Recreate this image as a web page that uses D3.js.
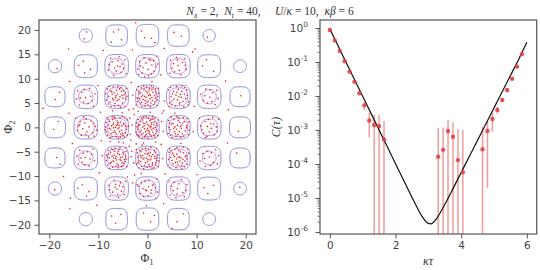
<!DOCTYPE html>
<html>
<head>
<meta charset="utf-8">
<title>Field distribution and correlator</title>
<script src="https://cdn.jsdelivr.net/npm/d3@7"></script>
<style>
body { margin: 0; background: #fff; }
svg { display: block; }
.tick text, .lbl { font-family: "DejaVu Sans", sans-serif; font-size: 10.5px; fill: #444; }
.tick line, .domain { stroke: #555; }
.math { font-family: "Liberation Serif", "DejaVu Serif", serif; fill: #333; white-space: pre; }
</style>
<script>
// ---- data ----
var PERIOD = 2 * Math.PI;

// contour rings per cell: [m, n, outer (blue) half width, inner (purple) half width]
var cellM = [-3,-2,-1,0,1,2,3];
var blueRows = {
  '3':  [0, 1.35, 2.2, 2.3, 2.2, 1.25, 0],
  '2':  [1.35, 2.35, 2.4, 2.4, 2.4, 2.35, 1.3],
  '1':  [2.05, 2.4, 2.4, 2.4, 2.4, 2.4, 2.05],
  '0':  [2.15, 2.4, 2.4, 2.4, 2.4, 2.4, 2.15],
  '-1': [2.05, 2.4, 2.4, 2.4, 2.4, 2.4, 2.05],
  '-2': [1.35, 2.35, 2.4, 2.4, 2.4, 2.35, 1.3],
  '-3': [0, 1.35, 2.2, 2.3, 2.2, 1.3, 0]
};
var purpleRows = {
  '3':  [0, 0, 0, 0, 0, 0, 0],
  '2':  [0, 0, 1.55, 1.7, 1.55, 0, 0],
  '1':  [0, 1.45, 1.85, 1.85, 1.85, 1.45, 0],
  '0':  [0, 1.7, 1.9, 1.9, 1.9, 1.7, 0],
  '-1': [0, 1.45, 1.85, 1.85, 1.85, 1.4, 0],
  '-2': [0, 0, 1.55, 1.7, 1.55, 0, 0],
  '-3': [0, 0, 0, 0, 0, 0, 0]
};

// sampled (Phi_1, Phi_2)
var samples = [
[-1.8,0.4],[0.3,-1.2],[1.1,1.7],[-0.6,-0.3],[2.0,-0.8],[-1.2,1.9],[0.7,0.2],[-2.1,-1.5],[1.5,-2.0],[-0.2,1.1],
[0.9,-0.5],[-1.5,-0.9],[1.9,0.9],[-0.8,2.1],[0.1,-2.2],[-2.2,0.9],[1.3,0.6],[-0.4,-1.7],[0.5,1.4],[-1.0,0.0],
[1.7,-1.3],[-1.7,-2.0],[0.0,0.6],[2.2,1.5],[-0.9,-1.2],[0.4,-0.9],[-1.4,1.2],[1.0,2.2],[-0.1,-0.6],[1.6,0.0],
[-2.0,-0.4],[0.8,-1.8],[-0.5,0.8],[1.2,-0.2],[-1.1,-2.2],[0.2,1.9],[-1.9,1.6],[2.1,-1.7],[-0.7,0.3],[0.6,-0.1],
[-1.3,-0.6],[1.4,1.1],[-0.3,2.2],[0.9,1.0],[-2.3,-1.0],[1.8,-0.5],[-0.6,-2.0],[0.3,0.3],[-1.6,0.6],[1.1,-1.0],
[-0.2,-1.4],[2.0,0.4],[-1.0,1.5],[0.5,-1.5],[-1.8,-1.7],[1.5,1.9],[0.0,-0.2],[-0.9,0.9],[0.7,1.6],[-0.4,-0.9],
[1.3,-1.6],[-2.1,0.1],[0.2,-0.6],[-1.2,-1.4],[0.8,0.7],
[-7.9,0.5],[-5.1,-1.2],[-6.6,1.8],[-4.4,0.2],[-8.3,-0.9],[-6.0,-0.3],[-7.2,-1.9],[-5.5,1.1],[-4.7,-2.0],[-6.9,0.9],
[-8.0,1.6],[-5.8,0.4],[-6.3,-1.4],[-4.2,1.5],[-7.5,-0.4],[-5.3,-0.6],[-6.8,2.1],[-8.5,0.1],[-4.9,0.8],[-7.0,-1.0],
[-5.9,-2.2],[-6.5,0.0],[-7.7,1.2],[-4.5,-1.1],[-5.6,1.9],[-8.1,-1.6],[-6.2,1.3],[-7.3,0.3],[-5.0,-1.7],[-6.7,-0.7],
[-4.3,-0.4],[-7.6,-2.1],[-5.7,-0.9],[-6.1,0.7],[-8.4,1.0],[-5.2,0.3],[-7.1,1.6],[-4.6,1.9],[-6.4,-1.9],[-7.8,-0.2],
[-5.4,-1.4],[-6.9,-0.1],[-4.8,0.6],[-8.2,2.0],[-6.0,1.0],[-7.4,-1.3],[-5.1,2.2],[-6.6,-1.1],[-4.1,-1.6],[-7.0,0.6],
[-5.8,-0.1],[-8.6,-0.5],[-6.3,0.4],[-5.5,-2.0],[-7.2,2.2],
[5.2,0.8],[7.1,-1.3],[6.4,1.9],[4.6,-0.5],[8.0,0.3],[5.8,-1.8],[7.5,1.2],[4.3,1.4],[6.9,-0.2],[5.5,-0.9],
[8.3,-1.5],[6.1,0.4],[4.8,2.1],[7.7,-0.7],[5.0,-2.1],[6.6,1.0],[4.4,0.0],[7.3,2.0],[5.9,-0.4],[8.4,1.1],
[6.2,-1.5],[4.9,0.7],[7.0,0.5],[5.4,1.6],[6.8,-2.0],[4.2,-1.2],[7.9,-0.1],[6.0,2.2],[5.6,0.1],[7.4,-1.8],
[4.7,-1.6],[6.5,-0.8],[8.1,1.8],[5.3,-0.2],[6.3,1.4],[7.2,0.9],[4.5,0.9],[5.7,-1.3],[6.7,0.2],[8.5,-0.6],
[0.4,6.8],[-1.2,5.1],[1.6,7.9],[-0.5,4.4],[2.0,5.6],[-1.8,7.4],[0.9,6.1],[-0.2,8.3],[1.3,4.7],[-2.1,6.0],
[0.1,5.4],[-1.0,6.6],[1.8,6.9],[-0.7,7.8],[0.6,4.2],[-1.5,4.8],[2.2,8.0],[-0.3,6.2],[1.1,7.2],[-2.0,5.3],
[0.8,8.5],[-1.3,8.1],[1.5,5.2],[0.0,7.1],[-0.9,5.7],[2.1,6.4],[-1.7,6.9],[0.5,5.9],[-0.4,4.9],[1.2,8.2],
[-2.2,7.7],[0.3,7.5],[-1.1,4.3],[1.9,4.5],[-0.6,6.4],[0.7,5.0],[-1.6,5.9],[1.4,6.5],[-0.1,5.2],[0.9,7.7],
[-2.3,4.6],[0.2,6.5],[-0.8,8.5],[1.7,7.4],[-1.4,7.1],[0.6,6.6],[-0.3,7.4],[1.0,5.5],[-1.9,8.4],[2.3,7.0],
[-0.5,5.5],[0.4,8.0],[1.6,6.0],[-1.2,6.3],[0.1,4.6],
[0.5,-6.7],[-1.3,-5.0],[1.7,-7.8],[-0.4,-4.3],[2.1,-5.7],[-1.9,-7.3],[0.8,-6.0],[-0.1,-8.2],[1.4,-4.8],[-2.0,-6.1],
[0.2,-5.3],[-0.9,-6.5],[1.9,-6.8],[-0.6,-7.9],[0.7,-4.1],[-1.6,-4.7],[2.2,-8.1],[-0.2,-6.3],[1.0,-7.3],[-2.1,-5.2],
[0.9,-8.4],[-1.2,-8.0],[1.6,-5.1],[0.0,-7.0],[-1.0,-5.8],[2.0,-6.3],[-1.8,-6.8],[0.4,-5.8],[-0.3,-4.8],[1.3,-8.3],
[-2.2,-7.6],[0.3,-7.6],[-1.1,-4.4],[1.8,-4.4],[-0.7,-6.3],[0.6,-5.1],[-1.5,-5.8],[1.5,-6.4],[0.0,-5.5],[1.0,-7.7],
[-2.3,-4.5],[0.1,-6.6],[-0.8,-8.5],[1.7,-7.3],[-1.4,-7.0],[0.7,-6.5],[-0.4,-7.3],[1.1,-5.6],[-1.8,-8.3],[2.3,-6.9],
[-0.5,-5.4],[0.5,-8.0],[1.5,-6.0],[-1.3,-6.2],[0.2,-4.6],
[-7.6,5.2],[-5.3,7.4],[-6.5,6.1],[-4.4,5.8],[-8.2,7.9],[-5.9,4.5],[-7.0,8.3],[-4.8,6.7],[-6.2,5.5],[-7.9,6.4],
[-5.1,5.0],[-6.8,7.1],[-4.3,8.0],[-7.4,4.3],[-5.6,6.3],[-6.0,8.4],[-8.4,5.6],[-4.6,4.3],[-6.6,4.9],[-7.2,6.8],
[-5.4,8.2],[-6.3,7.6],[-4.9,7.5],[-8.0,4.8],[-5.8,5.7],[-7.5,7.5],[-4.2,6.4],[-6.9,5.6],[-5.0,6.0],[-6.1,6.8],
[-7.8,8.4],[-5.5,4.1],[-6.7,4.4],[-8.5,6.9],[-4.5,7.1],[-7.1,5.9],[-5.7,7.9],[-6.4,6.5],[-7.3,7.3],[-5.2,6.6],
[5.1,6.9],[7.2,5.3],[6.3,7.8],[4.5,5.0],[8.1,6.6],[5.7,4.4],[6.9,6.2],[4.3,7.7],[7.6,8.2],[5.4,5.8],
[6.5,4.8],[8.3,4.6],[4.8,6.3],[7.0,7.4],[5.9,8.4],[6.1,5.6],[7.8,5.9],[4.4,4.3],[5.3,7.4],[6.7,6.8],
[8.0,7.7],[5.0,5.4],[7.4,4.2],[6.4,6.3],[4.7,8.2],[7.1,8.5],[5.8,6.6],[8.4,5.2],[6.0,7.2],[4.9,4.7],
[7.5,6.8],[6.6,5.1],
[-7.5,-5.1],[-5.2,-7.3],[-6.4,-6.0],[-4.5,-5.9],[-8.1,-7.8],[-5.8,-4.6],[-7.1,-8.2],[-4.7,-6.6],[-6.1,-5.4],[-7.8,-6.3],
[-5.0,-5.1],[-6.9,-7.0],[-4.2,-8.1],[-7.3,-4.4],[-5.5,-6.2],[-6.0,-8.3],[-8.3,-5.7],[-4.4,-4.2],[-6.7,-4.9],[-7.0,-6.9],
[-5.3,-8.1],[-6.2,-7.5],[-4.8,-7.4],[-8.0,-4.7],[-5.7,-5.6],[-7.6,-7.4],[-4.3,-6.5],[-6.8,-5.7],[-5.1,-6.1],[-6.3,-6.7],
[-7.7,-8.4],[-5.6,-4.2],[-6.6,-4.3],[-8.4,-6.8],[-4.6,-7.0],[-7.2,-5.9],[-5.9,-7.8],[-6.5,-6.4],[-7.4,-7.2],[-5.4,-6.8],
[-6.0,-5.0],[-7.9,-5.5],[-4.9,-5.5],[-6.4,-8.0],[-5.0,-7.9],[-7.0,-4.6],[-8.2,-6.1],[-5.6,-6.6],[-6.9,-6.3],[-4.4,-4.9],
[5.0,-6.8],[7.3,-5.2],[6.2,-7.7],[4.4,-5.1],[8.0,-6.5],[5.6,-4.5],[6.8,-6.3],[4.2,-7.8],[7.5,-8.1],[5.3,-5.7],
[6.4,-4.7],[8.2,-4.5],[4.7,-6.2],[7.1,-7.3],[5.8,-8.3],[6.0,-5.5],[7.7,-6.0],[4.5,-4.4],[5.2,-7.5],[6.6,-6.9],
[8.1,-7.6],[5.1,-5.3],[7.3,-4.1],[6.3,-6.2],[4.6,-8.3],[7.0,-8.5],[5.9,-6.5],[8.4,-5.3],[6.1,-7.1],[4.8,-4.8],
[7.6,-6.9],[6.7,-5.0],[6.5,-6.1],[5.5,-6.0],[7.9,-5.8],[4.3,-6.6],[6.9,-7.9],[5.7,-7.2],[7.2,-6.6],[6.0,-4.2],
[-13.8,0.6],[-11.2,-1.1],[-12.5,1.7],[-10.6,0.2],[-14.3,-0.7],[-12.0,-2.0],[-13.2,-0.3],[-11.5,1.3],[-14.6,1.9],[-12.8,0.9],
[-10.9,-1.8],[-13.5,-1.6],[-11.9,0.1],[-12.3,-0.9],[-14.0,0.3],[-11.0,0.8],[-13.0,2.1],[-12.6,-1.4],[-10.4,-0.6],[-13.7,1.2],
[13.5,0.7],[11.4,-1.2],[12.4,1.6],[10.8,0.3],[14.2,-0.8],[12.1,-1.9],[13.0,-0.2],[11.7,1.2],[14.5,1.7],[12.9,0.8],
[11.1,-0.5],[13.6,-1.5],[12.2,0.2],[10.6,1.9],[14.0,0.1],[12.6,-0.9],[13.3,2.0],[11.8,-2.1],
[0.6,13.8],[-1.1,11.2],[1.7,12.5],[0.2,10.6],[-0.7,14.3],[-2.0,12.0],[-0.3,13.2],[1.3,11.5],[1.9,14.6],[0.9,12.8],
[-1.8,10.9],[-1.6,13.5],[0.1,11.9],[-0.9,12.3],[0.3,14.0],[0.8,11.0],[2.1,13.0],[-1.4,12.6],[-0.6,10.4],[1.2,13.7],
[0.7,-13.5],[-1.2,-11.4],[1.6,-12.4],[0.3,-10.8],[-0.8,-14.2],[-1.9,-12.1],[-0.2,-13.0],[1.2,-11.7],[1.7,-14.5],[0.8,-12.9],
[-0.5,-11.1],[-1.5,-13.6],[0.2,-12.2],[1.9,-10.6],[0.1,-14.0],[-0.9,-12.6],[2.0,-13.3],[-2.1,-11.8],[-0.4,-12.8],[1.0,-12.0],
[-7.2,13.4],[-5.4,11.3],[-6.1,12.6],[-4.6,13.9],[-8.0,11.8],[-5.8,14.5],[-6.9,10.7],[-4.9,12.1],[-7.5,14.2],[-6.4,11.6],
[-5.2,13.0],[-7.8,12.9],[-6.0,13.7],[-4.4,11.0],[-6.7,12.2],[-5.6,12.5],
[7.1,13.3],[5.5,11.4],[6.2,12.7],[4.7,13.8],[7.9,11.9],[5.9,14.4],[6.8,10.8],[5.0,12.2],[7.6,14.1],[6.5,11.7],
[5.3,13.1],[7.7,12.8],[6.1,13.8],[4.5,11.1],
[-7.1,-13.3],[-5.5,-11.4],[-6.2,-12.7],[-4.7,-13.8],[-7.9,-11.9],[-5.9,-14.4],[-6.8,-10.8],[-5.0,-12.2],[-7.6,-14.1],[-6.5,-11.7],
[-5.3,-13.1],[-7.7,-12.8],[-6.1,-13.8],[-4.5,-11.1],[-6.6,-12.3],[-5.7,-12.0],
[7.2,-13.4],[5.4,-11.3],[6.1,-12.6],[4.6,-13.9],[8.0,-11.8],[5.8,-14.5],[6.9,-10.7],[4.9,-12.1],[7.5,-14.2],[6.4,-11.6],
[5.2,-13.0],[7.8,-12.9],[6.0,-13.7],[4.4,-11.0],
[-13.4,7.2],[-11.3,5.4],[-12.6,6.1],[-13.9,4.6],[-11.8,8.0],[-14.5,5.8],[-10.7,6.9],[-12.1,4.9],[-14.2,7.5],[-11.6,6.4],
[-13.0,5.2],[-12.9,7.8],[-13.7,6.0],[-11.0,4.4],
[13.3,7.1],[11.4,5.5],[12.7,6.2],[13.8,4.7],[11.9,7.9],[14.4,5.9],[10.8,6.8],[12.2,5.0],[14.1,7.6],[11.7,6.5],
[13.1,5.3],[12.8,7.7],
[-13.3,-7.1],[-11.4,-5.5],[-12.7,-6.2],[-13.8,-4.7],[-11.9,-7.9],[-14.4,-5.9],[-10.8,-6.8],[-12.2,-5.0],[-14.1,-7.6],[-11.7,-6.5],
[-13.1,-5.3],[-12.8,-7.7],[-13.6,-6.3],[-11.1,-4.5],
[13.4,-7.2],[11.3,-5.4],[12.6,-6.1],[13.9,-4.6],[11.8,-8.0],[14.5,-5.8],[10.7,-6.9],[12.1,-4.9],[14.2,-7.5],[11.6,-6.4],
[13.0,-5.2],[12.9,-7.8],
[-13.1,13.6],[-11.6,11.9],[-12.8,11.2],[-14.0,12.7],[12.0,13.9],[13.5,11.5],[11.2,12.6],
[-13.3,-11.8],[-11.9,-13.2],[-12.4,-14.1],[-14.2,-12.5],[12.3,-13.6],[13.4,-11.9],[11.5,-12.4],
[-12.9,18.2],[-12.4,19.6],[-6.9,19.6],[-5.3,18.0],[-7.4,17.5],[-5.9,20.1],[0.8,18.3],[-0.6,18.4],[1.5,17.4],[-1.2,19.8],
[6.9,18.7],[5.4,19.5],[12.2,18.5],
[-6.5,-19.7],[-5.4,-17.9],[-7.3,-18.2],[-0.8,-17.6],[0.6,-19.4],[1.4,-18.1],[6.0,-19.4],[7.3,-17.8],
[-18.4,12.1],[-18.8,5.7],[-17.9,7.2],[-19.1,-0.4],[-18.2,1.2],[-18.5,-6.2],[-17.8,-7.6],[-18.9,-12.8],
[19.0,6.5],[18.5,-0.8],[18.2,-5.3],[18.8,-12.3],
[-3.1,0.5],[-3.4,-2.6],[-2.9,3.8],[-3.2,-4.9],[-3.6,1.9],[-2.8,-7.3],[-3.0,6.6],[-3.5,-1.4],[-2.7,2.6],[-3.3,-6.0],
[3.2,-0.8],[3.0,2.9],[2.8,-3.5],[3.4,5.4],[3.1,-6.4],[2.9,1.2],
[0.6,3.1],[-1.9,3.3],[1.7,-3.0],[-0.8,-3.2],[-5.2,3.0],[-7.1,3.4],[5.6,2.9],[-4.9,-3.2],[-7.6,-2.9],[6.8,-3.3],[-1.3,-9.5],[0.9,9.4],
[-3.3,9.2],[-2.6,-9.8],[-9.4,-2.7],[-9.6,3.1],[9.3,-0.9],[9.5,4.3],[-9.2,-5.8],[-3.0,-11.4],[2.7,10.8],[-10.1,8.6],[-9.8,-9.3],[3.6,-9.6],
[-4.1,-10.2],[-2.3,-3.4],[-3.8,3.6],[3.3,3.4],[-3.7,-3.9],[-1.1,-3.6],[-5.8,-3.0],[-3.9,0.2],
[-15.7,-14.5],[-15.8,-16.7],[-17.1,-10.1],[5.0,-20.8],[-2.4,21.5],[-16.1,16.1],[-21.3,3.9],[-15.3,-3.3],[-16.0,2.9],[-9.0,15.8],
[9.7,16.1],[15.9,9.5],[16.3,-3.2],[-10.3,-16.0],[-0.2,-16.1],[3.4,16.2],[16.5,3.6],[10.1,-9.7],[-15.9,9.4],[9.2,15.5],[-3.1,15.9],[3.3,-15.7]
];

// correlator measurements (only positive means are shown on a log axis)
var tauPts = [0, 0.15, 0.3, 0.45, 0.6, 0.75, 0.9, 1.05, 1.2, 1.35, 1.5, 1.65,
              3.3, 3.45, 3.6, 3.75, 3.9, 4.05, 4.65, 4.8, 4.95, 5.1, 5.25, 5.4, 5.55, 5.7, 5.85];
var corr = [0.87, 0.43, 0.21, 0.105, 0.052, 0.026, 0.012, 5.3e-3, 1.9e-3, 1.4e-3, 1.3e-3, 5.3e-4,
            1.64e-4, 2.6e-4, 9.3e-4, 6.3e-4, 1.3e-4, 5.7e-5, 2.7e-4, 9.3e-4, 2.1e-3, 3.9e-3, 7.6e-3, 0.015, 0.032, 0.073, 0.17];
var corrErr = [0.01, 0.006, 0.004, 0.002, 0.001, 6e-4, 4e-4, 1.4e-3, 1.3e-3, 1.4e-3, 1.5e-3, 1.3e-3,
               9.6e-4, 9.2e-4, 1.03e-3, 1.03e-3, 9.4e-4, 9.4e-4, 9.3e-4, 9.1e-4, 1.2e-3, 9e-4, 1e-3, 1.5e-3, 2e-3, 3e-3, 5e-3];

// exact curve
var curveTau = [0, 0.25, 0.5, 0.75, 1, 1.25, 1.5, 1.75, 2, 2.25, 2.5, 2.65, 2.8, 2.9, 3.0, 3.07, 3.15, 3.25, 3.35, 3.5,
                3.75, 4, 4.25, 4.5, 4.75, 5, 5.25, 5.5, 5.75, 6];
var curveC = [0.933, 0.2985, 0.0955, 0.0305, 9.77e-3, 3.13e-3, 1.0e-3, 3.2e-4, 1.02e-4, 3.27e-5, 1.055e-5, 5.44e-6, 2.96e-6,
              2.15e-6, 1.78e-6, 1.74e-6, 1.91e-6, 2.46e-6, 3.49e-6, 6.42e-6, 1.88e-5, 5.62e-5, 1.68e-4, 5.01e-4, 1.5e-3,
              4.47e-3, 0.0133, 0.0398, 0.119, 0.38];

var xTicksL = [-20, -10, 0, 10, 20];
var yTicksL = [-20, -15, -10, -5, 0, 5, 10, 15, 20];
var xTicksR = [0, 2, 4, 6];
var decades = [-6, -5, -4, -3, -2, -1, 0];

// closed ring with rounded-square shape; small rings become circles
var ringPoints = function(cx, cy, w) {
  var p = 2 + 1.3 * Math.max(0, Math.min(1, (w - 1.3) / 0.9));
  return d3.range(72).map(function(i) {
    var t = i / 72 * 2 * Math.PI;
    var c = Math.cos(t), s = Math.sin(t);
    return [cx + w * Math.sign(c) * Math.pow(Math.abs(c), 2 / p),
            cy + w * Math.sign(s) * Math.pow(Math.abs(s), 2 / p)];
  });
};

var draw = function() {
  var svg = d3.select('#chart');
  var defs = svg.append('defs');

  // ---------- left panel ----------
  var xL = d3.scaleLinear().domain([-22.1, 22.1]).range([39, 256]);
  var yL = d3.scaleLinear().domain([-21.9, 22.05]).range([234, 20]);
  defs.append('clipPath').attr('id', 'clipL').append('rect')
    .attr('x', 39).attr('y', 20).attr('width', 217).attr('height', 214);

  var left = svg.append('g').attr('clip-path', 'url(#clipL)');
  var ring = d3.line().x(function(d){ return xL(d[0]); }).y(function(d){ return yL(d[1]); })
    .curve(d3.curveCardinalClosed);

  Object.keys(blueRows).forEach(function(n) {
    cellM.forEach(function(m, i) {
      var cx = m * PERIOD, cy = (+n) * PERIOD;
      if (blueRows[n][i] > 0) {
        left.append('path').attr('d', ring(ringPoints(cx, cy, blueRows[n][i])))
          .attr('fill', 'none').attr('stroke', '#8787d8').attr('stroke-width', 0.95);
      }
      if (purpleRows[n][i] > 0) {
        left.append('path').attr('d', ring(ringPoints(cx, cy, purpleRows[n][i])))
          .attr('fill', 'none').attr('stroke', '#c584e2').attr('stroke-width', 0.95);
      }
    });
  });

  left.selectAll('circle.s').data(samples).enter().append('circle')
    .attr('class', 's')
    .attr('cx', function(d){ return xL(d[0]); })
    .attr('cy', function(d){ return yL(d[1]); })
    .attr('r', 0.8)
    .attr('fill', '#e2232a');

  svg.append('g').attr('transform', 'translate(0,234)')
    .call(d3.axisBottom(xL).tickValues(xTicksL).tickSize(4.5).tickPadding(3).tickFormat(d3.format('d')))
    .call(function(g){ g.select('.domain').remove(); });
  svg.append('g').attr('transform', 'translate(39,0)')
    .call(d3.axisLeft(yL).tickValues(yTicksL).tickSize(4.5).tickPadding(3.5).tickFormat(d3.format('d')))
    .call(function(g){ g.select('.domain').remove(); });
  svg.append('rect').attr('x', 39).attr('y', 20).attr('width', 217).attr('height', 214)
    .attr('fill', 'none').attr('stroke', '#555').attr('stroke-width', 1.2);

  // ---------- right panel ----------
  var xR = d3.scaleLinear().domain([-0.3, 6.3]).range([320, 536.7]);
  var yR = d3.scaleLog().domain([Math.pow(10, -6.06), Math.pow(10, 0.235)]).range([234, 20]);
  defs.append('clipPath').attr('id', 'clipR').append('rect')
    .attr('x', 320).attr('y', 20).attr('width', 216.7).attr('height', 214);
  var right = svg.append('g').attr('clip-path', 'url(#clipR)');

  var pts = tauPts.map(function(t, i){ return {t: t, c: corr[i], e: corrErr[i]}; });
  var yMin = yR.domain()[0];
  right.selectAll('line.err').data(pts).enter().append('line')
    .attr('class', 'err')
    .attr('x1', function(d){ return xR(d.t); })
    .attr('x2', function(d){ return xR(d.t); })
    .attr('y1', function(d){ return yR(d.c + d.e); })
    .attr('y2', function(d){ return d.c - d.e > yMin ? yR(d.c - d.e) : 240; })
    .attr('stroke', '#e8585b').attr('stroke-opacity', 0.6).attr('stroke-width', 1.5);

  var curve = d3.line()
    .x(function(d, i){ return xR(curveTau[i]); })
    .y(function(d){ return yR(d); })
    .curve(d3.curveMonotoneX);
  right.append('path').attr('d', curve(curveC))
    .attr('fill', 'none').attr('stroke', '#111').attr('stroke-width', 1.2);

  right.selectAll('circle.p').data(pts).enter().append('circle')
    .attr('class', 'p')
    .attr('cx', function(d){ return xR(d.t); })
    .attr('cy', function(d){ return yR(d.c); })
    .attr('r', 2.2)
    .attr('fill', '#e0393c').attr('fill-opacity', 0.85);

  svg.append('g').attr('transform', 'translate(0,234)')
    .call(d3.axisBottom(xR).tickValues(xTicksR).tickSize(4.5).tickPadding(3).tickFormat(d3.format('d')))
    .call(function(g){ g.select('.domain').remove(); });

  var minors = [];
  decades.forEach(function(k) {
    for (var j = 2; j <= 9; j++) {
      var v = j * Math.pow(10, k);
      if (v < yR.domain()[1]) minors.push(v);
    }
  });
  svg.append('g').attr('transform', 'translate(320,0)')
    .call(d3.axisLeft(yR).tickValues(minors).tickSize(2.5).tickFormat(''))
    .call(function(g){ g.select('.domain').remove(); g.selectAll('line').attr('stroke-width', 0.8); });
  svg.append('g').attr('transform', 'translate(320,0)')
    .call(d3.axisLeft(yR).tickValues(decades.map(function(k){ return Math.pow(10, k); })).tickSize(4.5).tickFormat(''))
    .call(function(g){ g.select('.domain').remove(); });
  decades.forEach(function(k) {
    var t = svg.append('text').attr('class', 'lbl')
      .attr('x', 308).attr('y', yR(Math.pow(10, k)) + 4)
      .attr('text-anchor', 'end');
    t.append('tspan').text('10');
    t.append('tspan').attr('dy', -4.5).attr('font-size', '7.5px').text(k === 0 ? '0' : '-' + (-k));
  });
  svg.append('rect').attr('x', 320).attr('y', 20).attr('width', 216.7).attr('height', 214)
    .attr('fill', 'none').attr('stroke', '#555').attr('stroke-width', 1.2);

  // ---------- labels ----------
  var title = svg.append('text').attr('class', 'math').attr('x', 270).attr('y', 15)
    .attr('text-anchor', 'middle').attr('font-size', '11.5px');
  var parts = [
    ['N', 'i'], ['x', 'sub'], [' = 2,  ', 'r'], ['N', 'i'], ['t', 'sub'], [' = 40,     ', 'r'],
    ['U', 'i'], ['/', 'r'], ['\u03ba', 'i'], [' = 10,  ', 'r'], ['\u03ba\u03b2', 'i'], [' = 6', 'r']
  ];
  var shifted = false;
  parts.forEach(function(p) {
    var ts = title.append('tspan').text(p[0]);
    if (p[1] === 'i' || p[1] === 'sub') ts.attr('font-style', 'italic');
    if (p[1] === 'sub') { ts.attr('font-size', '8px').attr('dy', 2.5); shifted = true; }
    else if (shifted) { ts.attr('dy', -2.5); shifted = false; }
  });

  var xl = svg.append('text').attr('class', 'math').attr('x', 147).attr('y', 262)
    .attr('text-anchor', 'middle').attr('font-size', '12px');
  xl.append('tspan').text('\u03a6');
  xl.append('tspan').attr('font-size', '8px').attr('dy', 2.5).text('1');

  var yl = svg.append('text').attr('class', 'math').attr('transform', 'translate(12,127) rotate(-90)')
    .attr('text-anchor', 'middle').attr('font-size', '12px');
  yl.append('tspan').text('\u03a6');
  yl.append('tspan').attr('font-size', '8px').attr('dy', 2.5).text('2');

  svg.append('text').attr('class', 'math').attr('transform', 'translate(280,127) rotate(-90)')
    .attr('text-anchor', 'middle').attr('font-size', '12px').attr('font-style', 'italic').text('C(\u03c4)');
  svg.append('text').attr('class', 'math').attr('x', 428).attr('y', 265)
    .attr('text-anchor', 'middle').attr('font-size', '12px').attr('font-style', 'italic').text('\u03ba\u03c4');
};

window.onload = function() {
  draw();
};
</script>
</head>
<body>
<svg id="chart" width="540" height="270"></svg>
</body>
</html>
